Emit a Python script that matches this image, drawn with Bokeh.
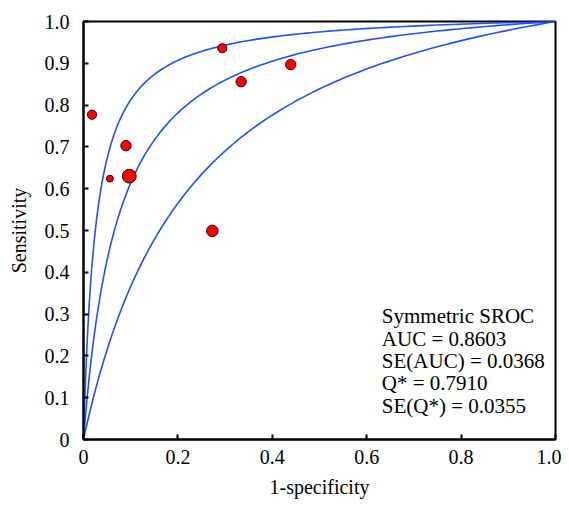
import numpy as np
from bokeh.plotting import figure
from bokeh.models import Range1d, FixedTicker, CustomJSTickFormatter, ColumnDataSource, Label
from bokeh.embed import file_html
from bokeh.resources import INLINE

# Study points (1-specificity, sensitivity) and study weight
fpr = [0.018, 0.056, 0.090, 0.097, 0.294, 0.334, 0.439, 0.273]
tpr = [0.777, 0.624, 0.703, 0.630, 0.936, 0.856, 0.897, 0.499]
weight = [64, 36, 81, 144, 64, 81, 81, 100]

# Symmetric SROC curves: diagnostic odds ratios (lower bound, estimate, upper bound)
curve_dor = [5.2, 14.3, 39.0]

stats_lines = ["Symmetric SROC", "AUC = 0.8603", "SE(AUC) = 0.0368",
               "Q* = 0.7910", "SE(Q*) = 0.0355"]

x_ticks = [0, 0.2, 0.4, 0.6, 0.8, 1.0]
y_ticks = [0, 0.1, 0.2, 0.3, 0.4, 0.5, 0.6, 0.7, 0.8, 0.9, 1.0]

FONT = "Liberation Serif"

p = figure(width=561, height=500, output_backend="svg", toolbar_location=None,
           x_range=Range1d(0, 1), y_range=Range1d(0, 1),
           min_border_left=83, min_border_right=6, min_border_top=21, min_border_bottom=59)
p.grid.visible = False
p.outline_line_color = "black"
p.outline_line_width = 2
p.outline_line_alpha = 1
p.background_fill_color = "white"
p.border_fill_color = "white"

fmt = CustomJSTickFormatter(code="return tick == 0 ? '0' : tick.toFixed(1);")
for ax, ticks in ((p.xaxis[0], x_ticks), (p.yaxis[0], y_ticks)):
    ax.ticker = FixedTicker(ticks=ticks)
    ax.formatter = fmt
    ax.major_tick_in = 5
    ax.major_tick_out = 0
    ax.minor_tick_in = 0
    ax.minor_tick_out = 0
    ax.axis_line_width = 2
    ax.major_tick_line_width = 2
    ax.axis_line_color = "black"
    ax.major_tick_line_color = "black"
    ax.major_label_text_font = FONT
    ax.major_label_text_font_size = "20px"
    ax.major_label_text_color = "black"
    ax.axis_label_text_font = FONT
    ax.axis_label_text_font_size = "20px"
    ax.axis_label_text_font_style = "normal"
    ax.axis_label_text_color = "black"

p.xaxis.axis_label = "1-specificity"
p.yaxis.axis_label = "Sensitivity"
p.xaxis.major_label_standoff = 10
p.yaxis.major_label_standoff = 14
p.xaxis.axis_label_standoff = 9
p.yaxis.axis_label_standoff = 12

xs = np.concatenate([[0.0], np.geomspace(1e-5, 0.999999, 600), [1.0]])
for dor in curve_dor:
    odds = xs / np.clip(1 - xs, 1e-12, None)
    ys = dor * odds / (1 + dor * odds)
    ys[-1] = 1.0
    p.line(xs, ys, line_color="#2050ff", line_width=1.6)

src = ColumnDataSource(dict(x=fpr, y=tpr, s=[1.15 * np.sqrt(w) for w in weight]))
p.scatter("x", "y", size="s", source=src, fill_color="#ff0000", line_color="#300000", line_width=1)

y0 = 0.295
for i, t in enumerate(stats_lines):
    p.add_layout(Label(x=0.632, y=y0 - i * 0.0536, text=t, text_font=FONT, text_font_size="21px",
                       text_baseline="middle", text_color="black"))

open("out.html", "w").write(file_html(p, INLINE))
